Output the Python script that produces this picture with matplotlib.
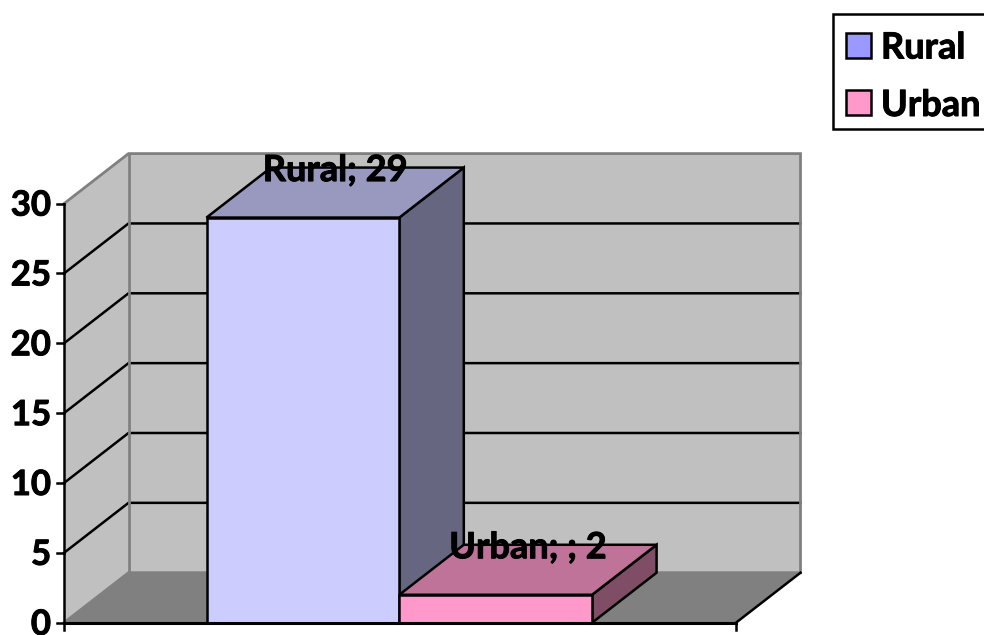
import matplotlib
matplotlib.use("Agg")
import matplotlib.pyplot as plt
import matplotlib.patheffects as pe
from matplotlib.patches import Polygon, Rectangle

plt.rcParams["font.family"] = ["Lato", "DejaVu Sans"]

categories = ["Rural", "Urban"]
values = [29, 2]
data_labels = ["Rural; 29", "Urban; ; 2"]
y_ticks = [0, 5, 10, 15, 20, 25, 30]
front_colors = ["#CCCCFF", "#FF99CC"]
top_colors = ["#9999BF", "#BF7399"]
side_colors = ["#666680", "#804D66"]
legend_colors = ["#9999FF", "#FF99CC"]

# pixel layout of the fake 3d box
X0, X1 = 64, 736
Y0, PX_PER_UNIT = 622.7, 13.97
DX, DY = 64.5, 50
BAR_LEFT, BAR_W = 206.5, 192.8
LW = 1.8
FS = 26
# the reference text is a blurry heavy bold, thicken it a little
HEAVY = [pe.withStroke(linewidth=0.7, foreground="black")]


def px(x, v, depth=0.0):
    """project (x along the front, value, depth 0..1) to pixel coords"""
    return (x + DX * depth, Y0 - v * PX_PER_UNIT - DY * depth)


def bold_text(x, y, s, fontsize=FS, **kw):
    ax.text(x, y + 2, s, va="center", fontsize=fontsize, fontweight="bold", path_effects=HEAVY, **kw)


fig = plt.figure(figsize=(9.84, 6.35), dpi=100)
ax = fig.add_axes([0, 0, 1, 1])
ax.set_xlim(0, 984)
ax.set_ylim(635, 0)
ax.axis("off")

vmax = y_ticks[-1]

# walls and floor
ax.add_patch(Polygon([px(X0, 0, 1), px(X1, 0, 1), px(X1, vmax, 1), px(X0, vmax, 1)],
                     fc="#C0C0C0", ec="none", zorder=1))
ax.add_patch(Polygon([px(X0, 0), px(X0, 0, 1), px(X0, vmax, 1), px(X0, vmax)],
                     fc="#C0C0C0", ec="none", zorder=1))
ax.add_patch(Polygon([px(X0, 0), px(X1, 0), px(X1, 0, 1), px(X0, 0, 1)],
                     fc="#808080", ec="none", zorder=1))

# gridlines
for t in y_ticks[1:-1]:
    xs, ys = zip(px(X0, t), px(X0, t, 1), px(X1, t, 1))
    ax.plot(xs, ys, color="black", lw=LW, zorder=2, solid_joinstyle="miter")

# grey wall edges
for pts in ([px(X0, vmax), px(X0, vmax, 1), px(X1, vmax, 1), px(X1, 0, 1)],
            [px(X0, vmax, 1), px(X0, 0, 1)],
            [px(X0, 0), px(X0, 0, 1), px(X1, 0, 1)]):
    xs, ys = zip(*pts)
    ax.plot(xs, ys, color="#808080", lw=2, zorder=3, solid_joinstyle="miter")

# axis lines and ticks
xs, ys = zip(px(X1, 0), px(X1, 0, 1))
ax.plot(xs, ys, color="black", lw=LW, zorder=4)
ax.plot([X0, X0], [px(X0, 0)[1], px(X0, vmax)[1]], color="black", lw=LW, zorder=4)
ax.plot([X0, X1], [Y0, Y0], color="black", lw=2.2, zorder=6)
for x in (X0, X1):
    ax.plot([x, x], [Y0, Y0 + 7], color="black", lw=LW, zorder=4)
for t in y_ticks:
    y = px(X0, t)[1]
    ax.plot([X0 - 7, X0], [y, y], color="black", lw=LW, zorder=4)
    bold_text(X0 - 13, y, str(t), fontsize=25, ha="right", zorder=6)

# bars
for i, v in enumerate(values):
    x0 = BAR_LEFT + i * BAR_W
    x1 = x0 + BAR_W
    kw = dict(ec="black", lw=LW, zorder=5, joinstyle="miter")
    ax.add_patch(Polygon([px(x1, 0), px(x1, 0, 1), px(x1, v, 1), px(x1, v)], fc=side_colors[i], **kw))
    ax.add_patch(Polygon([px(x0, v), px(x1, v), px(x1, v, 1), px(x0, v, 1)], fc=top_colors[i], **kw))
    ax.add_patch(Polygon([px(x0, 0), px(x1, 0), px(x1, v), px(x0, v)], fc=front_colors[i], **kw))
    lx, ly = px((x0 + x1) / 2, v, 1)
    bold_text(lx - DX / 2, ly + 1, data_labels[i], ha="center", zorder=7)

# legend, runs off the right edge like the original
ax.add_patch(Rectangle((833, 14), 160, 115, fc="white", ec="black", lw=LW, zorder=5))
for i, name in enumerate(categories):
    y = 45 + i * 57.5
    ax.add_patch(Rectangle((845.5, y - 12.5), 25, 25, fc=legend_colors[i], ec="black", lw=LW, zorder=6))
    bold_text(881, y + 1, name, ha="left", zorder=6)

fig.savefig("out.png", dpi=100)
